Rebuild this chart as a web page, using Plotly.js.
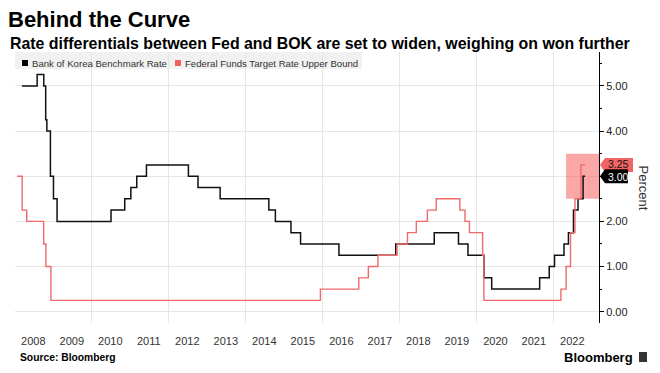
<!DOCTYPE html>
<html>
<head>
<meta charset="utf-8">
<script src="https://cdn.plot.ly/plotly-3.0.1.min.js"></script>
<style>html,body{margin:0;padding:0;background:#fff;}#chart{width:660px;height:373px;}</style>
</head>
<body>
<div id="chart"></div>
<script>
// ---- Data ----
const bokDates = ['2008-03-15','2008-08-07','2008-10-09','2008-10-27','2008-11-07','2008-12-11','2009-01-09','2009-02-12',
  '2010-07-09','2010-11-16','2011-01-13','2011-03-10','2011-06-10','2012-07-12','2012-10-11','2013-05-09',
  '2014-08-14','2014-10-15','2015-03-12','2015-06-11','2016-06-09','2017-11-30','2018-11-30','2019-07-18',
  '2019-10-16','2020-03-16','2020-05-28','2021-08-26','2021-11-25','2022-01-14','2022-04-14','2022-05-26',
  '2022-07-13','2022-08-25','2022-10-12','2022-10-31'];
const bokRates = [5.00,5.25,5.00,4.25,4.00,3.00,2.50,2.00,
  2.25,2.50,2.75,3.00,3.25,3.00,2.75,2.50,
  2.25,2.00,1.75,1.50,1.25,1.50,1.75,1.50,
  1.25,0.75,0.50,0.75,1.00,1.25,1.50,1.75,
  2.25,2.50,3.00,3.00];

const fedDates = ['2008-01-31','2008-03-18','2008-04-30','2008-10-08','2008-10-29','2008-12-16','2015-12-16','2016-12-14',
  '2017-03-15','2017-06-14','2017-12-13','2018-03-21','2018-06-13','2018-09-26','2018-12-19','2019-07-31',
  '2019-09-18','2019-10-30','2020-03-03','2020-03-15','2022-03-16','2022-05-04','2022-06-15','2022-07-27',
  '2022-09-21','2022-10-31'];
const fedRates = [3.00,2.25,2.00,1.50,1.00,0.25,0.50,0.75,
  1.00,1.25,1.50,1.75,2.00,2.25,2.50,2.25,
  2.00,1.75,1.25,0.25,0.50,1.00,1.75,2.50,
  3.25,3.25];

const yearLabels = ['2008','2009','2010','2011','2012','2013','2014','2015','2016','2017','2018','2019','2020','2021','2022'];
const gridYears = ['2010','2012','2014','2016','2018','2020','2022'];
const yTicks = [0,1,2,3,4,5];
const seriesNames = ['Bank of Korea Benchmark Rate','Federal Funds Target Rate Upper Bound'];
const highlightStart = '2022-05-04';
// ---- end data ----

const W = 660, H = 373;
const M = {l:15, r:61, t:52, b:50};
const PW = W - M.l - M.r, PH = H - M.t - M.b;
const px2x = px => (px - M.l) / PW;
const px2y = py => (H - M.b - py) / PH;

const xRange = ['2008-01-10','2023-03-12'];
const yRange = [-0.25, 5.75];

const FONT = 'Liberation Sans, Arial, sans-serif';
const BLACK = '#111111';
const RED = '#ef6a6a';

const traces = [
  {x: bokDates, y: bokRates, type:'scatter', mode:'lines', line:{color:BLACK, width:1.5, shape:'hv'}, name:seriesNames[0], showlegend:false, hoverinfo:'skip'},
  {x: fedDates, y: fedRates, type:'scatter', mode:'lines', line:{color:RED, width:1.4, shape:'hv'}, name:seriesNames[1], showlegend:false, hoverinfo:'skip'}
];

const lastBok = bokRates[bokRates.length-1];
const lastFed = fedRates[fedRates.length-1];
const tagH = 0.155;

function tagPath(x1, yc, h) {
  const tip = px2x(600), s = px2x(605);
  return `M ${tip} ${yc} L ${s} ${yc+h} L ${x1} ${yc+h} L ${x1} ${yc-h} L ${s} ${yc-h} Z`;
}

const shapes = [
  // legend band
  {type:'rect', xref:'paper', yref:'paper', x0:0, x1:px2x(362), y0:px2y(69), y1:1, fillcolor:'#f1f1f1', line:{width:0}, layer:'between'},
  {type:'rect', xref:'paper', yref:'paper', x0:px2x(22), x1:px2x(28), y0:px2y(66), y1:px2y(60), fillcolor:'#000', line:{width:0}},
  {type:'rect', xref:'paper', yref:'paper', x0:px2x(175), x1:px2x(181), y0:px2y(66), y1:px2y(60), fillcolor:'#f26060', line:{width:0}},
  // highlight box
  {type:'rect', xref:'x', yref:'y', x0:highlightStart, x1:xRange[1], y0:2.5, y1:3.5, fillcolor:'rgba(246,80,80,0.5)', line:{width:0}, layer:'between'},
  // value tags
  {type:'path', xref:'paper', yref:'y', path:tagPath(px2x(633), lastFed, tagH), fillcolor:'#f26464', line:{width:0}},
  {type:'path', xref:'paper', yref:'y', path:tagPath(px2x(628), lastBok, tagH), fillcolor:'#000000', line:{width:0}},
  // bloomberg icon
  {type:'rect', xref:'paper', yref:'paper', x0:px2x(639), x1:px2x(647), y0:px2y(362), y1:px2y(352), fillcolor:'#333', line:{width:0}}
];

const annotations = [
  {xref:'paper', yref:'paper', x:px2x(8), y:px2y(43), xanchor:'left', yanchor:'middle', showarrow:false,
   text:'<b>Rate differentials between Fed and BOK are set to widen, weighing on won further</b>', font:{family:FONT, size:15.9, color:'#000'}},
  {xref:'paper', yref:'paper', x:px2x(30), y:px2y(63), xanchor:'left', yanchor:'middle', showarrow:false,
   text:seriesNames[0], font:{family:FONT, size:9.6, color:'#333'}},
  {xref:'paper', yref:'paper', x:px2x(183), y:px2y(63), xanchor:'left', yanchor:'middle', showarrow:false,
   text:seriesNames[1], font:{family:FONT, size:9.6, color:'#333'}},
  {xref:'paper', yref:'y', x:px2x(607), y:lastFed + 0.02, xanchor:'left', yanchor:'middle', showarrow:false, borderpad:0,
   text:lastFed.toFixed(2), font:{family:FONT, size:10.5, color:'#111'}},
  {xref:'paper', yref:'y', x:px2x(607), y:lastBok - 0.02, xanchor:'left', yanchor:'middle', showarrow:false, borderpad:0,
   text:lastBok.toFixed(2), font:{family:FONT, size:10.5, color:'#fff'}},
  {xref:'paper', yref:'paper', x:px2x(643), y:0.5, xanchor:'center', yanchor:'middle', showarrow:false, textangle:90,
   text:'Percent', font:{family:FONT, size:13, color:'#333'}},
  {xref:'paper', yref:'paper', x:px2x(18), y:px2y(357), xanchor:'left', yanchor:'middle', showarrow:false,
   text:'<b>Source: Bloomberg</b>', font:{family:FONT, size:10.3, color:'#000'}},
  {xref:'paper', yref:'paper', x:px2x(635), y:px2y(357), xanchor:'right', yanchor:'middle', showarrow:false,
   text:'<b>Bloomberg</b>', font:{family:FONT, size:13, color:'#000'}}
];

// the axis label hidden behind the value tag is left blank
const yTickText = yTicks.map(v => (v === lastBok ? '' : v.toFixed(2)));

const layout = {
  width:W, height:H,
  margin:{l:M.l, r:M.r, t:M.t, b:M.b, pad:0},
  paper_bgcolor:'#fff', plot_bgcolor:'#fff',
  showlegend:false,
  font:{family:FONT, color:'#333'},
  title:{text:'<b>Behind the Curve</b>', xref:'container', yref:'container', x:8/W, xanchor:'left', y:1-19/H, yanchor:'middle',
    font:{family:FONT, size:22, color:'#000'}},
  xaxis:{type:'date', range:xRange, showgrid:false, zeroline:false, showline:false,
    tickmode:'array', tickvals:yearLabels.map(y => y + '-07-02'), ticktext:yearLabels, ticks:'', ticklabelstandoff:10,
    tickfont:{family:FONT, size:11, color:'#333'},
    minor:{tickmode:'array', tickvals:gridYears.map(y => y + '-01-01'), showgrid:true, gridcolor:'#e6e6e6', gridwidth:1, ticks:''},
    fixedrange:true},
  yaxis:{side:'right', range:yRange, tickmode:'array', tickvals:yTicks, ticktext:yTickText,
    showgrid:true, gridcolor:'#e6e6e6', zeroline:false, showline:true, linecolor:'#000', linewidth:1,
    ticks:'outside', ticklen:4, tickcolor:'#000', tickfont:{family:FONT, size:11, color:'#222'},
    minor:{dtick:0.5, ticks:'outside', ticklen:2, tickcolor:'#000', showgrid:false},
    fixedrange:true},
  shapes:shapes,
  annotations:annotations
};

Plotly.newPlot('chart', traces, layout, {staticPlot:true, displayModeBar:false});
</script>
</body>
</html>
